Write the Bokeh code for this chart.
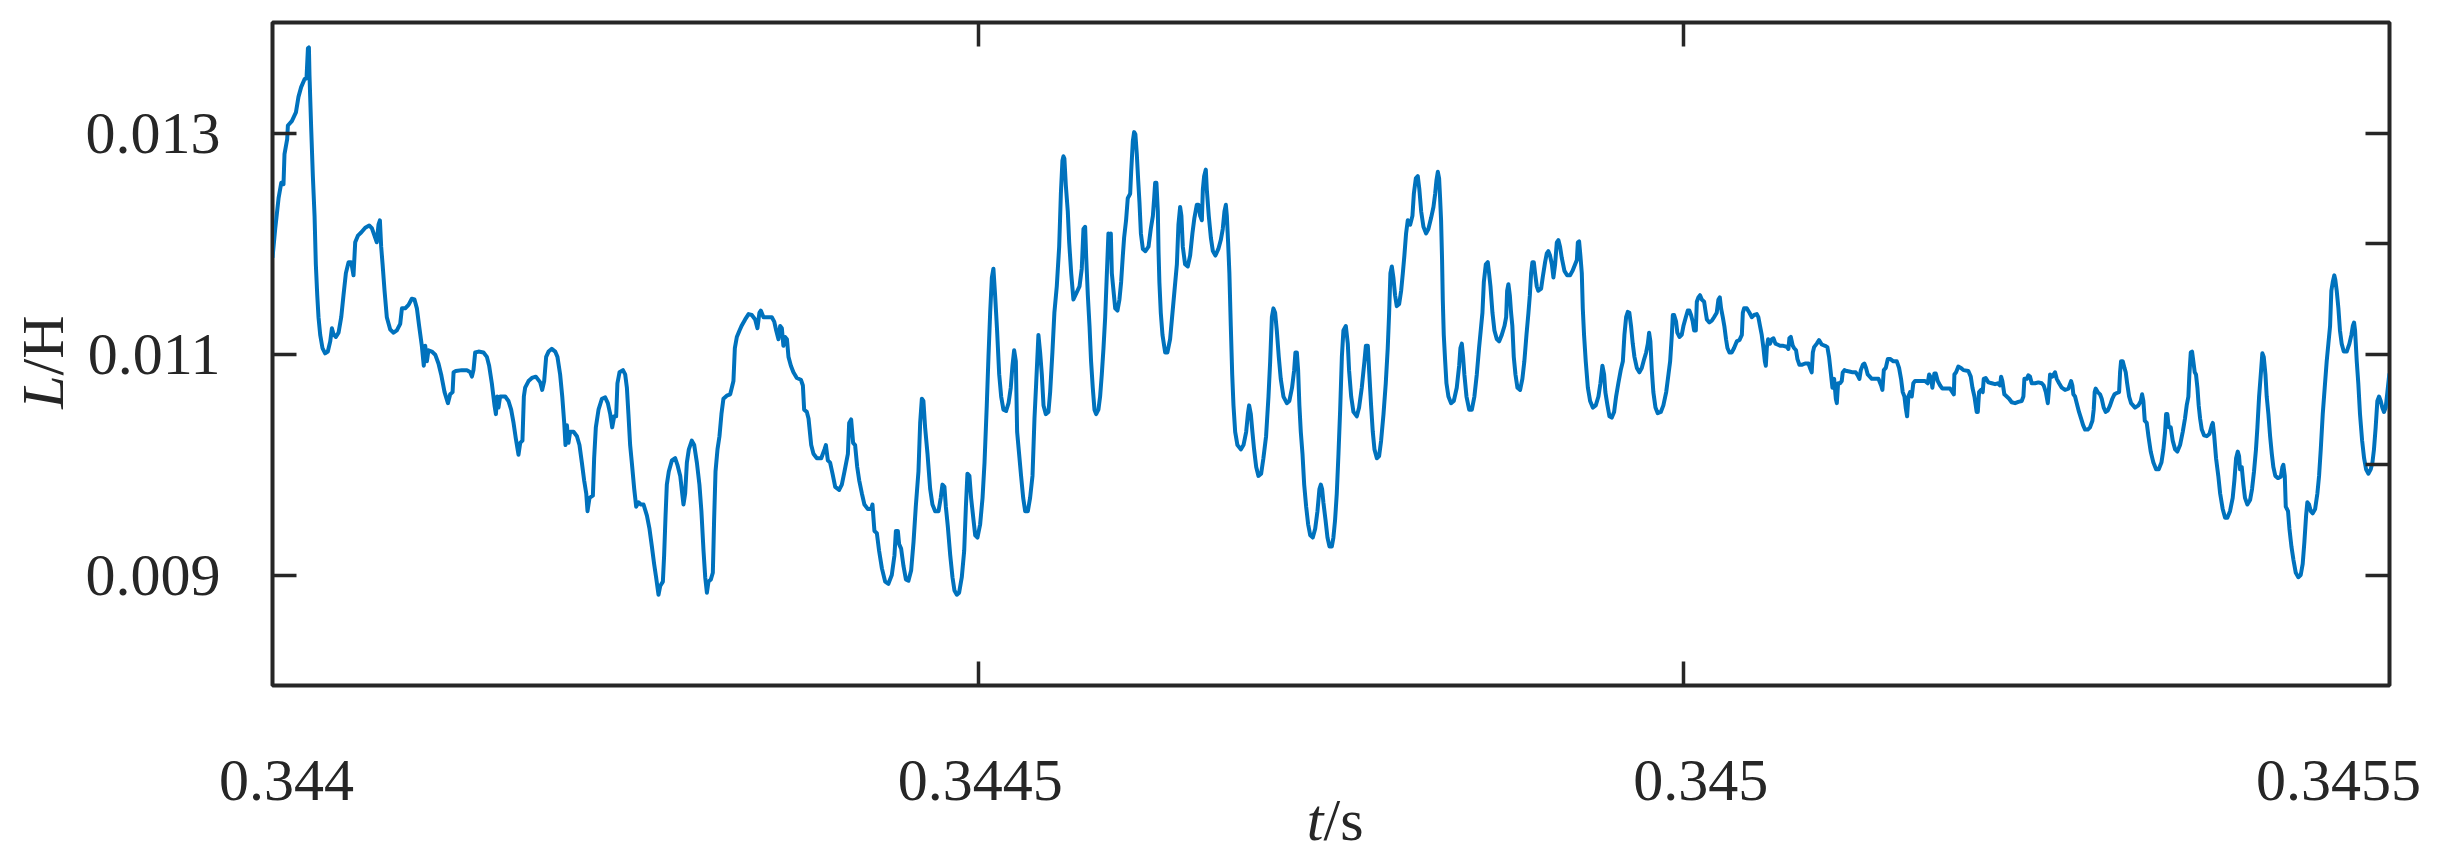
import math
from bokeh.plotting import figure
from bokeh.layouts import row, column
from bokeh.models import (Range1d, LinearAxis, FixedTicker,
                          PrintfTickFormatter, CustomJSTickFormatter)
from bokeh.core.properties import value
from bokeh.embed import file_html
from bokeh.resources import INLINE

# ---------------- data ----------------
T0 = 0.344  # s
# time offset from T0 in microseconds
t_us = [
    0.0, 1.9, 4.3, 6.2, 7.8, 8.5, 10.4, 10.9, 13.7, 16.6, 18.4, 20.3, 22.7, 24.1, 25.1, 25.8, 26.2, 27.4, 28.6, 29.8,
    30.7, 31.7, 32.6, 33.8, 35.4, 37.3, 39.2, 40.9, 42.1, 43.2, 44.9, 46.8, 48.7, 50.3, 52.0, 53.9, 55.8, 57.4, 58.6, 60.5,
    62.8, 65.7, 68.5, 70.4, 72.8, 73.9, 75.1, 76.1, 77.0, 78.0, 79.4, 81.0, 83.4, 85.8, 88.1, 90.5, 91.7, 94.0, 96.4, 98.7,
    100.6, 102.3, 103.9, 105.8, 107.2, 108.2, 109.4, 110.5, 112.9, 115.3, 117.6, 119.5, 121.9, 124.3, 125.9, 127.6, 128.3,
    129.9, 134.2, 137.7, 140.1, 141.3, 142.4, 143.6, 146.0, 149.5, 151.9, 153.5, 155.4, 157.3, 158.3, 159.2, 160.1, 161.3,
    164.9, 167.2, 169.1, 170.8, 172.4, 174.3, 175.5, 177.1, 178.1, 179.0, 181.4, 183.8, 186.6,
    189.7, 191.1, 192.5, 193.9, 195.6, 197.9, 200.3, 201.9, 203.8, 205.3, 206.7, 207.6, 208.6, 209.7, 210.9, 213.3, 215.7,
    217.5, 219.2, 220.8, 222.3, 223.2, 224.6, 227.0, 227.9, 229.1, 231.0, 233.4, 235.7, 237.6, 239.3, 240.7, 242.1, 243.5,
    244.4, 245.9, 248.3, 249.9, 251.1, 252.2, 253.4, 254.6, 256.3, 257.7, 259.3, 261.0, 262.9, 265.3, 267.1, 268.8, 270.4,
    271.8, 273.5, 274.7, 276.6, 277.5, 278.5, 279.4, 280.8, 283.0, 285.3, 286.9, 288.9, 290.3, 291.2, 292.4, 293.6, 295.0,
    297.1, 298.8, 300.7, 302.5, 303.9, 305.4, 306.6, 307.8, 308.9, 310.6, 312.0, 312.9, 313.9, 315.3, 316.7, 318.1, 319.5,
    321.9, 324.3, 326.6, 327.6, 329.0, 330.9, 332.6, 334.9, 337.3, 339.6, 342.0, 343.6, 345.0, 346.0, 347.9, 350.3, 353.8,
    355.5, 356.9, 358.5, 359.7, 360.9, 362.0, 363.2, 364.5, 365.6, 367.3, 369.1, 371.5, 374.4, 375.8, 376.7, 378.6, 379.8,
    381.7, 383.3, 385.7, 388.8, 391.1, 392.1, 393.5, 395.1, 396.8, 398.7, 401.5, 403.4, 405.3, 407.7, 408.6, 410.0, 411.4,
    412.8, 414.3, 415.7, 417.6, 419.4, 421.8, 424.2, 425.1, 426.5, 428.2, 429.8, 431.8, 434.1, 436.4, 438.8, 440.7, 441.7,
    443.1, 444.0, 445.4, 447.1, 448.8, 450.6, 452.5, 454.2, 455.8, 457.7, 458.9, 460.1, 461.2, 462.4, 464.1, 466.0, 467.6,
    469.5, 471.9, 473.5, 474.7, 476.1, 477.1, 478.5, 480.2, 481.8, 483.2, 484.9, 486.5, 488.4, 490.1, 491.3, 492.4, 493.8,
    495.0, 496.7, 497.9, 499.5, 501.4, 503.1, 504.5, 506.1, 507.3, 508.5, 509.7, 510.8, 512.0, 513.4, 514.9, 516.3, 517.9,
    519.8, 521.5, 523.1, 524.3, 525.5, 526.7, 527.6, 529.0, 530.4, 531.9, 533.3, 535.2, 536.8, 538.5, 539.9, 541.1, 542.7,
    543.9, 545.1, 546.3, 547.9, 549.8, 551.0, 552.6, 554.0, 555.7, 557.4, 558.6, 559.7, 560.4, 561.1, 562.1, 563.5, 564.5,
    565.9, 567.5,
    571.8, 573.4, 574.6, 575.8, 576.5, 577.7, 578.9, 580.0, 581.2, 582.4, 583.6, 585.2, 586.4, 587.6, 588.8, 590.0, 591.2,
    592.3, 593.0, 594.0, 594.7, 595.9, 597.1, 598.7, 600.1, 601.3, 602.5, 603.4, 604.8, 606.0, 607.7, 608.4, 609.6, 610.5,
    611.4, 612.4, 613.4, 614.3, 615.3, 616.7, 618.5, 620.7, 622.3, 623.8, 624.7, 625.4, 626.3, 627.3, 627.8, 628.4, 629.4,
    630.6, 632.5, 634.1, 636.0, 637.4, 639.1, 640.8, 641.9, 643.1, 644.0, 645.0, 646.6, 648.5, 650.2, 651.8, 653.2, 654.9,
    656.1, 657.3, 658.5, 659.2, 660.1, 661.3, 662.0, 663.4, 664.9, 666.3, 668.1, 670.2, 671.9, 673.3, 674.5, 675.5, 676.2,
    677.1, 678.0, 679.0, 680.0, 680.9, 682.1, 683.7, 686.1, 688.0, 689.9, 691.1, 692.0, 693.2, 694.3, 695.5, 697.0, 698.6,
    700.5, 702.1, 704.0, 705.7, 706.9, 708.1, 709.2, 710.4, 711.6, 713.0, 714.4, 716.3, 718.7, 720.5, 722.4, 723.9, 724.8,
    725.8, 726.7, 727.6, 728.6, 729.8, 731.0, 732.4, 733.8, 735.3, 737.1, 738.8, 740.4, 741.8, 742.8, 743.7, 744.6, 746.1,
    747.5, 748.9, 750.6, 751.7, 752.9, 754.1,
    755.3, 756.5, 757.7, 758.8, 760.5, 761.9, 762.8, 764.3, 765.9, 768.3, 769.9, 771.8, 773.7, 774.7, 776.1, 777.0, 778.4,
    779.6, 780.8, 782.5, 784.1, 785.5, 787.2, 788.8, 790.2, 791.2, 792.1, 793.1, 794.2, 795.4, 796.6, 798.3, 799.7, 800.9,
    802.0, 803.2, 804.4, 806.1, 807.7, 808.7, 810.1, 811.5, 812.6, 813.9, 815.5, 817.4, 819.0, 820.9, 822.6, 823.8, 824.7,
    825.7, 826.6, 827.3, 828.0, 828.7, 829.2, 829.9, 830.9, 831.8, 833.2, 835.1, 837.0, 839.1, 840.8, 841.7, 842.7, 843.6,
    844.5, 846.0, 847.9, 849.8, 851.6, 853.3, 854.9, 856.4, 857.3, 858.3, 859.7, 861.1, 862.0, 863.0, 864.4, 865.8, 867.5,
    869.1, 871.0, 872.9, 874.1, 874.8, 875.7, 876.7, 877.6, 878.5, 879.5, 880.7, 882.1, 884.0, 885.6, 887.0, 888.5, 889.9,
    890.9, 891.8, 892.7, 893.7, 894.6, 895.8, 896.9, 898.9, 900.0, 901.7, 902.9, 904.0, 905.2, 906.5, 907.6, 908.8, 910.0,
    911.1, 912.3, 913.5, 915.4, 917.3, 919.4, 921.1, 923.0, 924.2, 924.9, 925.8, 926.7, 927.7, 928.4, 929.3, 930.5, 932.0,
    933.6, 935.5, 937.6, 939.5, 940.9,
    942.3, 943.5, 944.4, 945.9, 947.3, 948.9, 950.6, 952.0, 953.6, 955.3, 956.8, 957.9, 959.1, 960.3, 961.4, 962.6, 963.8,
    965.0, 966.7, 968.5, 970.2, 971.9, 973.3, 974.5, 975.4, 976.3, 977.3, 978.4, 979.9, 981.5, 983.7, 985.5, 987.5, 989.1,
    990.3, 991.5, 992.2, 993.1, 994.5, 995.4, 996.9, 998.5, 999.7, 1001.4, 1002.8, 1003.9, 1005.1, 1006.3, 1007.3, 1008.5,
    1009.2, 1010.3, 1011.5, 1012.7, 1014.4, 1015.3, 1016.3, 1018.1, 1019.8, 1021.4, 1023.3, 1024.5, 1025.5, 1026.4, 1027.6,
    1028.7, 1029.9, 1030.9, 1032.3, 1034.0, 1035.6, 1037.5, 1039.4, 1041.1, 1041.8, 1042.7, 1044.6, 1046.5, 1048.1, 1049.8,
    1051.7, 1052.8, 1054.0, 1055.2, 1056.4, 1057.4, 1058.1, 1058.8, 1059.7, 1061.1, 1062.3, 1063.5, 1064.9, 1066.3, 1068.2,
    1070.5, 1072.9, 1074.1, 1074.8, 1075.8, 1077.2, 1078.1, 1079.5, 1080.5, 1081.9, 1083.5, 1085.9, 1088.3, 1089.4, 1090.6,
    1091.4, 1092.3, 1094.2, 1095.8, 1097.7, 1100.1, 1101.7, 1102.9, 1104.1, 1105.3, 1106.5, 1107.7, 1108.4, 1109.3, 1110.7,
    1111.9, 1112.6, 1113.8, 1115.4, 1117.3, 1119.7, 1121.8, 1123.2, 1124.4, 1125.4, 1126.8, 1127.9, 1129.1, 1130.3,
    1133.2, 1135.5, 1137.9, 1139.8, 1140.7, 1141.7, 1143.1, 1144.5, 1146.4, 1148.5, 1150.9, 1152.5, 1153.9, 1155.1, 1156.3,
    1157.2, 1158.2, 1159.1, 1160.3, 1161.5, 1162.6, 1163.8, 1167.4, 1170.9, 1172.8, 1173.8, 1175.2, 1176.1, 1177.5, 1178.5,
    1179.9, 1181.6, 1183.2, 1186.3, 1188.7, 1190.3, 1191.3, 1191.7, 1192.9, 1194.5, 1196.4, 1198.1, 1201.6, 1203.3, 1204.5,
    1205.9, 1207.5, 1208.3, 1209.2, 1210.6, 1211.8, 1212.5, 1213.9, 1215.8, 1218.2, 1220.5, 1222.4, 1224.1, 1224.8, 1225.7,
    1227.1, 1228.8, 1230.5, 1232.3, 1234.7, 1237.0, 1239.4, 1240.6, 1241.3, 1243.0, 1244.1, 1245.3, 1246.5, 1248.9, 1251.2,
    1253.6, 1255.0, 1256.5, 1257.9, 1258.8, 1259.5, 1261.1, 1263.0, 1264.2, 1265.9, 1267.8, 1270.1, 1272.5, 1274.4, 1275.3,
    1276.0, 1277.2, 1278.4, 1280.0, 1281.5, 1282.9, 1284.3, 1286.2, 1287.8, 1289.5, 1290.4, 1291.1, 1291.8, 1293.3, 1294.9,
    1296.1, 1297.5, 1298.9, 1300.4, 1302.0, 1303.6, 1305.1, 1306.8, 1308.4, 1309.1, 1309.8, 1311.0, 1312.2, 1313.1, 1314.1,
    1315.5, 1316.9,
    1319.7, 1322.1, 1323.8, 1324.7, 1325.6, 1326.6, 1328.0, 1329.2, 1330.8, 1332.7, 1334.6, 1336.5, 1338.4, 1339.8, 1341.0,
    1341.7, 1342.6, 1343.6, 1345.0, 1346.4, 1348.1, 1349.7, 1351.6, 1353.5, 1355.1, 1356.3, 1357.5, 1358.2, 1359.2, 1360.1,
    1361.0, 1362.0, 1362.9, 1363.9, 1364.8, 1365.8, 1367.0, 1368.6, 1370.5, 1372.4, 1374.1, 1374.8, 1375.7, 1377.1, 1378.7,
    1380.0, 1381.8, 1383.5, 1385.1, 1387.0, 1388.9, 1390.1, 1391.3, 1392.5, 1393.4, 1394.1, 1395.3, 1396.5, 1397.6, 1399.3,
    1401.2, 1402.6, 1404.0, 1405.4, 1406.4, 1407.6, 1408.8, 1409.9, 1410.9, 1412.1, 1413.0, 1414.2, 1415.4, 1416.6, 1417.7,
    1419.1, 1421.0, 1423.0, 1424.1, 1424.8, 1425.8, 1426.5, 1428.1, 1429.1, 1430.5, 1431.9, 1433.6, 1435.4, 1437.1, 1438.5,
    1439.7, 1440.9, 1441.8, 1443.0, 1444.2, 1445.6, 1447.3, 1448.9, 1450.1, 1451.3, 1452.7, 1454.1, 1455.5, 1456.7, 1457.9,
    1458.8, 1459.8, 1460.9, 1461.6, 1462.6, 1463.8, 1464.9, 1466.1, 1467.6, 1469.7, 1471.6, 1473.0, 1474.0, 1474.9, 1475.6,
    1476.8, 1477.9, 1479.1, 1480.6, 1482.0, 1483.4, 1485.0, 1486.7, 1487.9, 1489.0, 1490.2, 1491.4, 1492.6, 1493.8, 1494.9,
    1496.1, 1497.3, 1498.5, 1499.5, 1500.0,
]
# inductance in mH
L_mH = [
    11.871, 12.131, 12.410, 12.549, 12.537, 12.809, 12.944, 13.068, 13.108, 13.187, 13.327, 13.415, 13.487, 13.495, 13.766,
    13.774, 13.526, 13.048, 12.609, 12.250, 11.812, 11.532, 11.333, 11.173, 11.054, 11.006, 11.022, 11.114, 11.233, 11.181,
    11.154, 11.193, 11.333, 11.532, 11.732, 11.831, 11.831, 11.712, 12.011, 12.071, 12.099, 12.143, 12.163, 12.139, 12.051,
    12.011, 12.170, 12.210, 11.971, 11.812, 11.572, 11.333, 11.221, 11.193, 11.213, 11.273, 11.413, 11.413, 11.445, 11.500,
    11.493, 11.413, 11.253, 11.074, 10.894, 11.074, 10.934, 11.034, 11.022, 10.994, 10.914, 10.815, 10.655, 10.555, 10.635,
    10.655, 10.835, 10.846, 10.854, 10.854, 10.835, 10.795, 10.854, 11.014, 11.022, 11.014, 10.974, 10.894, 10.735, 10.535,
    10.456, 10.615, 10.515, 10.615, 10.615, 10.575, 10.496, 10.376, 10.236, 10.089, 10.196, 10.216, 10.615, 10.695, 10.755,
    10.783, 10.795,
    10.743, 10.675, 10.755, 10.974, 11.022, 11.046, 11.022, 10.974, 10.815, 10.615, 10.376, 10.176, 10.356, 10.196, 10.296,
    10.296, 10.256, 10.176, 10.017, 9.857, 9.738, 9.578, 9.698, 9.718, 10.057, 10.336, 10.496, 10.595, 10.607, 10.555,
    10.456, 10.336, 10.436, 10.436, 10.735, 10.835, 10.854, 10.815, 10.695, 10.456, 10.176, 10.017, 9.778, 9.618, 9.658,
    9.638, 9.638, 9.538, 9.419, 9.259, 9.100, 8.980, 8.821, 8.900, 8.940, 9.179, 9.538, 9.818, 9.937, 10.037, 10.057,
    9.997, 9.897, 9.738, 9.638, 9.738, 10.017, 10.137, 10.216, 10.176, 10.017, 9.818, 9.578, 9.219, 8.980, 8.840, 8.940,
    8.960, 9.020, 9.499, 9.937, 10.137, 10.256, 10.456, 10.595, 10.623, 10.635, 10.755, 11.054, 11.154, 11.213, 11.261,
    11.313, 11.361, 11.353, 11.313, 11.233, 11.373, 11.393, 11.333, 11.333, 11.333, 11.293, 11.213, 11.134, 11.253, 11.233,
    11.074, 11.154, 11.134, 10.974, 10.894, 10.835, 10.783, 10.767, 10.715, 10.496, 10.476, 10.416,
    10.176, 10.097, 10.057, 10.057, 10.137, 10.176, 10.037, 10.017, 9.917, 9.798, 9.770, 9.818, 9.937, 10.097, 10.376,
    10.408, 10.196, 10.176, 9.977, 9.857, 9.738, 9.638, 9.598, 9.598, 9.638, 9.399, 9.379, 9.219, 9.060, 8.940, 8.920,
    9.000, 9.179, 9.399, 9.399, 9.279, 9.239, 9.080, 8.960, 8.948, 9.040, 9.299, 9.618, 9.937, 10.376, 10.595, 10.575,
    10.336, 10.097, 9.778, 9.638, 9.578, 9.578, 9.698, 9.818, 9.798, 9.618, 9.439, 9.179, 8.980, 8.860, 8.821, 8.840,
    8.980, 9.219, 9.618, 9.917, 9.897, 9.698, 9.498, 9.359, 9.339, 9.459, 9.698, 10.017, 10.535, 10.974, 11.373, 11.692,
    11.772, 11.532, 11.213, 10.815, 10.615, 10.496, 10.484, 10.555, 10.695, 10.894, 11.034, 10.934, 10.296, 10.097, 9.897,
    9.698, 9.578, 9.578, 9.698, 9.897, 10.416, 10.735, 11.173, 11.014, 10.815, 10.535, 10.456, 10.476, 10.655, 11.014,
    11.373, 11.612, 11.971, 12.450, 12.749, 12.789, 12.769, 12.529, 12.290, 12.011, 11.732, 11.493,
    11.612, 11.772, 12.131, 12.151, 11.891, 11.532, 11.253, 10.934, 10.695, 10.496, 10.456, 10.496, 10.615, 10.815, 11.054,
    11.333, 11.732, 12.091, 11.891, 12.091, 11.732, 11.572, 11.413, 11.393, 11.493, 11.652, 11.891, 12.051, 12.210, 12.410,
    12.450, 12.649, 12.928, 13.008, 12.988, 12.809, 12.569, 12.370, 12.091, 11.951, 11.931, 11.971, 12.131, 12.250, 12.410,
    12.549, 12.549, 12.290, 11.931, 11.652, 11.373, 11.173, 11.014, 11.014, 11.134, 11.333, 11.572, 11.812, 12.170, 12.330,
    12.250, 11.971, 11.812, 11.792, 11.891, 12.091, 12.230, 12.350, 12.350, 12.250, 12.210, 12.490, 12.609, 12.669, 12.490,
    12.250, 12.051, 11.931, 11.891, 11.951, 12.031, 12.131, 12.290, 12.350, 12.250, 12.011, 11.732, 11.253, 10.815, 10.535,
    10.296, 10.176, 10.137, 10.176, 10.296, 10.456, 10.535, 10.456, 10.296, 10.137, 9.977, 9.897, 9.917, 10.057, 10.256,
    10.615, 10.934, 11.333, 11.413, 11.373, 11.213, 10.974, 10.775, 10.615, 10.555, 10.575, 10.695, 10.854, 11.014, 11.014,
    10.854, 10.535, 10.296, 10.097, 9.818, 9.618, 9.459, 9.359, 9.339, 9.419, 9.578, 9.778, 9.818, 9.778, 9.658, 9.499,
    9.339, 9.259, 9.259, 9.339, 9.499, 9.738,
    10.097, 10.496, 10.974, 11.213, 11.253, 11.094, 10.854, 10.615, 10.476, 10.436, 10.515, 10.695, 10.934, 11.074, 11.074,
    10.854, 10.535, 10.296, 10.137, 10.057, 10.077, 10.216, 10.456, 10.735, 11.054, 11.373, 11.732, 11.792, 11.692, 11.532,
    11.433, 11.453, 11.572, 11.732, 11.891, 12.091, 12.210, 12.170, 12.250, 12.450, 12.589, 12.609, 12.490, 12.290, 12.151,
    12.091, 12.131, 12.230, 12.330, 12.450, 12.569, 12.649, 12.589, 12.410, 12.210, 11.851, 11.493, 11.173, 10.934, 10.735,
    10.615, 10.555, 10.575, 10.695, 10.894, 11.054, 11.094, 10.974, 10.815, 10.615, 10.496, 10.496, 10.615, 10.815, 11.054,
    11.253, 11.373, 11.652, 11.812, 11.831, 11.732, 11.612, 11.373, 11.213, 11.134, 11.114, 11.173, 11.253, 11.333, 11.572,
    11.632, 11.532, 11.373, 11.253, 10.974, 10.815, 10.695, 10.675, 10.775, 10.934, 11.173, 11.373, 11.532, 11.732, 11.831,
    11.831, 11.732, 11.612, 11.572, 11.592, 11.692, 11.831, 11.911, 11.931, 11.891, 11.812, 11.692, 11.812, 12.011, 12.031,
    11.971, 11.871, 11.752, 11.712, 11.712, 11.752, 11.812, 11.851, 12.011, 12.019, 11.891, 11.732, 11.413, 11.173, 10.934,
    10.695, 10.575, 10.515, 10.535, 10.615, 10.735,
    10.894, 10.815, 10.655, 10.535, 10.436, 10.424, 10.476, 10.615, 10.735, 10.854, 10.934, 11.173, 11.333, 11.381, 11.373,
    11.253, 11.094, 10.974, 10.874, 10.834, 10.874, 10.954, 11.014, 11.094, 11.193, 11.114, 10.854, 10.655, 10.515, 10.464,
    10.476, 10.535, 10.655, 10.815, 10.934, 11.173, 11.353, 11.353, 11.293, 11.193, 11.154, 11.173, 11.253, 11.333, 11.393,
    11.393, 11.353, 11.293, 11.213, 11.213, 11.473, 11.512, 11.532, 11.493, 11.473, 11.393, 11.313, 11.285, 11.301, 11.333,
    11.373, 11.493, 11.512, 11.413, 11.333, 11.253, 11.134, 11.054, 11.014, 11.014, 11.054, 11.114, 11.126, 11.173, 11.373,
    11.413, 11.413, 11.373, 11.333, 11.353, 11.361, 11.333, 11.253, 11.173, 11.054, 10.934, 10.894, 11.054, 11.134, 11.094,
    11.134, 11.142, 11.094, 11.086, 11.074, 11.074, 11.066, 11.046, 11.142, 11.154, 11.074, 11.054, 11.034, 10.954, 10.902,
    10.902, 10.914, 10.914, 10.874, 10.834, 11.014, 11.062, 11.094, 11.126, 11.086, 11.074, 11.062, 10.974, 10.834, 10.695,
    10.775, 10.595, 10.555, 10.735, 10.735, 10.755, 10.834, 10.854, 10.846, 10.842, 10.834, 10.834, 10.807, 10.775, 10.854,
    10.902, 10.914, 10.874, 10.815,
    10.775, 10.775, 10.775, 10.715, 10.675, 10.854, 10.874, 10.954, 10.954, 10.934, 10.934, 10.874, 10.775, 10.655, 10.615,
    10.515, 10.436, 10.615, 10.655, 10.615, 10.735, 10.755, 10.755, 10.755, 10.735, 10.815, 10.783, 10.695, 10.823, 10.823,
    10.755, 10.715, 10.687, 10.687, 10.687, 10.655, 10.635, 10.815, 10.835, 10.886, 10.874, 10.854, 10.846, 10.795, 10.695,
    10.615, 10.476, 10.476, 10.655, 10.675, 10.655, 10.775, 10.783, 10.743, 10.735, 10.727, 10.735, 10.715, 10.795, 10.755,
    10.635, 10.615, 10.595, 10.563, 10.555, 10.567, 10.575, 10.615, 10.775, 10.775, 10.807, 10.795, 10.735, 10.735, 10.743,
    10.735, 10.715, 10.655, 10.555, 10.695, 10.815, 10.795, 10.835, 10.775, 10.735, 10.695, 10.675, 10.687, 10.755, 10.715,
    10.635, 10.615, 10.555, 10.476, 10.416, 10.356, 10.316, 10.316, 10.336, 10.396, 10.496, 10.655, 10.687, 10.655, 10.635,
    10.595, 10.515, 10.476, 10.488, 10.535, 10.595, 10.635, 10.647, 10.655, 10.835, 10.934, 10.934, 10.874, 10.835, 10.735,
    10.615, 10.555,
    10.515, 10.535, 10.575, 10.635, 10.575, 10.396, 10.376, 10.256, 10.117, 10.017, 9.957, 9.957, 10.017, 10.137, 10.296,
    10.456, 10.456, 10.336, 10.336, 10.216, 10.137, 10.117, 10.176, 10.296, 10.416, 10.535, 10.615, 10.815, 11.014, 11.022,
    10.934, 10.835, 10.815, 10.695, 10.535, 10.416, 10.316, 10.264, 10.256, 10.276, 10.356, 10.376, 10.276, 10.057, 9.897,
    9.738, 9.598, 9.518, 9.518, 9.578, 9.698, 9.857, 10.057, 10.117, 10.077, 9.957, 9.977, 9.818, 9.698, 9.638,
    9.678, 9.778, 9.937, 10.137, 10.336, 10.615, 10.815, 11.006, 10.974, 10.815, 10.615, 10.456, 10.256, 10.097, 9.977,
    9.897, 9.877, 9.889, 9.977, 9.997, 9.897, 9.618, 9.578, 9.419, 9.259, 9.140, 9.020, 8.980, 9.000, 9.100,
    9.299, 9.538, 9.658, 9.638, 9.578, 9.558, 9.598, 9.738, 9.897, 10.137, 10.456, 10.695, 10.934, 11.094, 11.253,
    11.572, 11.652, 11.712, 11.672, 11.572, 11.413, 11.213, 11.094, 11.022, 11.022, 11.094, 11.173, 11.253, 11.285, 11.213,
    10.934, 10.735, 10.456, 10.216, 10.057, 9.957, 9.917, 9.957, 10.017, 10.137, 10.336, 10.575, 10.615, 10.575, 10.515,
    10.476, 10.515, 10.655, 10.775, 10.823,
]

x_range_s = (0.344, 0.3455)
y_range_H = (0.008, 0.014)
y_ticks_left = [0.009, 0.011, 0.013]
y_ticks_right = [0.009, 0.010, 0.011, 0.012, 0.013]
x_ticks_marks = [0.3445, 0.345]
x_tick_values = [0.344, 0.3445, 0.345, 0.3455]
x_tick_labels = ["0.344", "0.3445", "0.345", "0.3455"]

# unit conversion only (µs -> s, mH -> H)
t = [T0 + v * 1e-6 for v in t_us]
L = [v * 1e-3 for v in L_mH]

# ---------------- styling / layout ----------------
INK = "#262626"
FONT = "Liberation Serif"
FS = "60px"
TOTAL_W, TOTAL_H = 2424, 851
LEFT_W = 80                       # strip holding the y-axis title
MAIN_W = TOTAL_W - LEFT_W
MAIN_H = 697                      # main plot (frame + thin border)
BOT_H = TOTAL_H - MAIN_H          # strip holding x tick labels and x title
BL, BR, BT, BB = 192, 35, 22, 12  # borders of the main plot
FW = MAIN_W - BL - BR             # frame width (px)
x_label_shift = [14, 2, 17, -51]  # horizontal nudges of x tick labels (px)
XTICK_BASE = 71                   # baseline of x tick labels above strip bottom (px)
XTITLE_BASE = 32                  # baseline of x title above strip bottom (px)
XTITLE_SPLIT = 1051               # px from frame left where italic "t" meets "/s"
YTITLE_MID = 42                   # centre line (x) of the rotated y title in left strip
YTITLE_SPLIT = 476                # px above strip bottom where "L" meets "/H"


def plain_fig(**kw):
    f = figure(output_backend="svg", toolbar_location=None,
               x_axis_type=None, y_axis_type=None, min_border=0,
               min_border_left=0, min_border_right=0, min_border_top=0,
               min_border_bottom=0, **kw)
    f.outline_line_color = None
    f.background_fill_color = "white"
    f.border_fill_color = "white"
    f.frame_align = False
    return f


# main figure ------------------------------------------------------------
p = figure(width=MAIN_W, height=MAIN_H, output_backend="svg", toolbar_location=None,
           x_range=Range1d(*x_range_s), y_range=Range1d(*y_range_H),
           x_axis_type=None, y_axis_type=None,
           min_border_left=BL, min_border_right=BR, min_border_top=BT, min_border_bottom=BB)
p.frame_align = False
p.background_fill_color = "white"
p.border_fill_color = "white"
p.outline_line_color = INK
p.outline_line_width = 4


def style_axis(ax):
    ax.axis_line_color = INK
    ax.axis_line_width = 3
    ax.major_tick_in = 24
    ax.major_tick_out = 0
    ax.major_tick_line_color = INK
    ax.major_tick_line_width = 3.5
    ax.minor_tick_line_color = None


def blank_labels(ax):
    ax.formatter = CustomJSTickFormatter(code="return ''")
    ax.major_label_text_font_size = "0px"
    ax.major_label_standoff = 0


left = LinearAxis(ticker=FixedTicker(ticks=y_ticks_left),
                  formatter=PrintfTickFormatter(format="%.3f"))
style_axis(left)
left.major_label_text_font = FONT
left.major_label_text_font_size = FS
left.major_label_text_color = INK
left.major_label_standoff = 52
p.add_layout(left, "left")

right = LinearAxis(ticker=FixedTicker(ticks=y_ticks_right))
style_axis(right)
blank_labels(right)
p.add_layout(right, "right")

below = LinearAxis(ticker=FixedTicker(ticks=x_ticks_marks))
style_axis(below)
blank_labels(below)
p.add_layout(below, "below")

above = LinearAxis(ticker=FixedTicker(ticks=x_ticks_marks))
style_axis(above)
blank_labels(above)
p.add_layout(above, "above")

p.line(t, L, line_color="#0072BD", line_width=4, line_join="round")

# bottom strip: same horizontal scale as the main frame ---------------------
k = (x_range_s[1] - x_range_s[0]) / FW          # data units per pixel
bot = plain_fig(width=MAIN_W, height=BOT_H,
                x_range=Range1d(x_range_s[0] - BL * k, x_range_s[1] + BR * k),
                y_range=Range1d(0, BOT_H))

txt_style = dict(text_font=value(FONT), text_font_size=value(FS), text_color=INK)
bot.text(x=x_tick_values, y=[XTICK_BASE] * len(x_tick_values), text=x_tick_labels,
         x_offset=x_label_shift, text_align="center", text_baseline="alphabetic",
         **txt_style)
split_x = x_range_s[0] + XTITLE_SPLIT * k
bot.text(x=[split_x], y=[XTITLE_BASE], text=["t"], text_align="right",
         text_baseline="alphabetic", text_font_style="italic", **txt_style)
bot.text(x=[split_x], y=[XTITLE_BASE], text=["/s"], text_align="left",
         text_baseline="alphabetic", **txt_style)

# left strip: rotated y title ----------------------------------------------
lf = plain_fig(width=LEFT_W, height=TOTAL_H,
               x_range=Range1d(0, LEFT_W), y_range=Range1d(0, TOTAL_H))
lf.text(x=[YTITLE_MID], y=[YTITLE_SPLIT], text=["L"], angle=math.pi / 2,
        text_align="right", text_baseline="middle", text_font_style="italic",
        **txt_style)
lf.text(x=[YTITLE_MID], y=[YTITLE_SPLIT], text=["/H"], angle=math.pi / 2,
        text_align="left", text_baseline="middle", **txt_style)

layout = row(lf, column(p, bot, spacing=0), spacing=0)

open("out.html", "w").write(file_html(layout, INLINE))
